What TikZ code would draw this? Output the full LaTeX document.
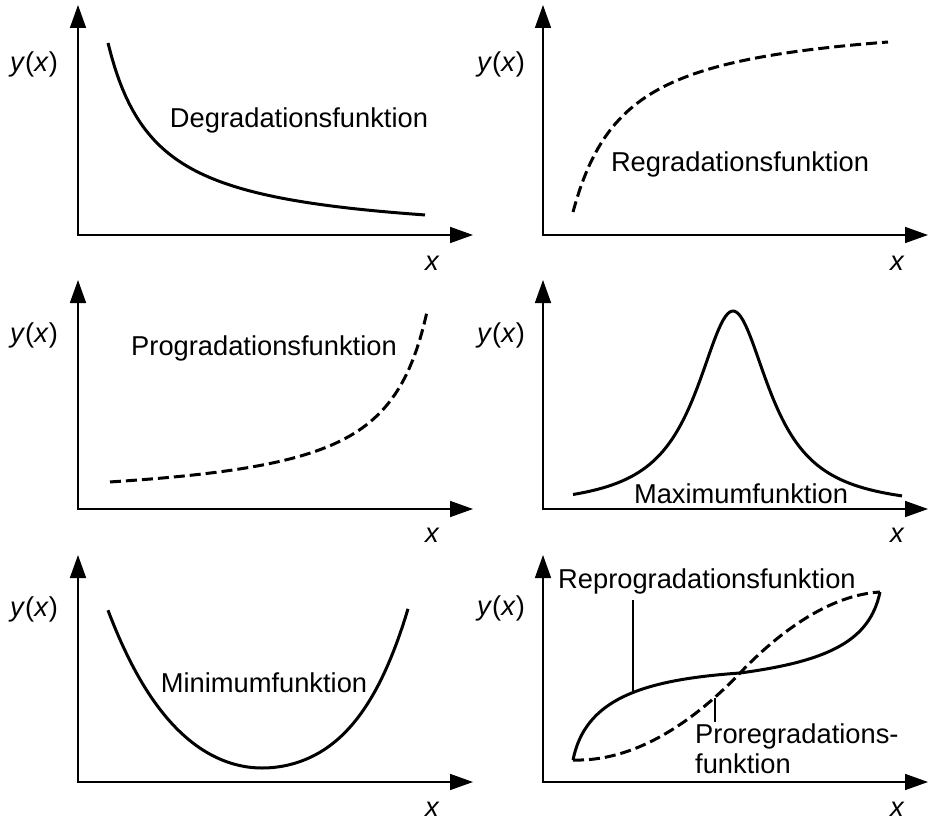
\documentclass[tikz,border=0pt]{standalone}
\usepackage{fontspec}
\setmainfont{Liberation Sans}
\usetikzlibrary{arrows.meta}
\begin{document}
\begin{tikzpicture}[x=1pt,y=-1pt,
  axis/.style={line width=1.6pt,{Triangle[length=23pt,width=16pt]}-{Triangle[length=23pt,width=16pt]}},
  curve/.style={line width=3pt},
  dcurve/.style={curve,dash pattern=on 11pt off 5pt},
  lead/.style={line width=1.5pt},
  lbl/.style={font=\fontsize{27.3}{32}\selectfont,inner sep=0pt},
  varlbl/.style={lbl,anchor=base west}]
\useasboundingbox (0,0) rectangle (929,821);
% axes
\draw[axis] (78,5) -- (78,235) -- (473,235);
\draw[axis] (543,5) -- (543,235) -- (928,235);
\draw[axis] (78,280) -- (78,509) -- (473,509);
\draw[axis] (543,280) -- (543,509) -- (928,509);
\draw[axis] (78,555) -- (78,782) -- (473,782);
\draw[axis] (543,555) -- (543,782) -- (928,782);
% axis labels
\node[varlbl] (y1) at (10,72) {\textit{y}(\textit{x})};
\node[varlbl] (y2) at (477,72) {\textit{y}(\textit{x})};
\node[varlbl] (y3) at (10,342) {\textit{y}(\textit{x})};
\node[varlbl] (y4) at (477,342) {\textit{y}(\textit{x})};
\node[varlbl] (y5) at (10,616) {\textit{y}(\textit{x})};
\node[varlbl] (y6) at (477,615) {\textit{y}(\textit{x})};
\node[varlbl] (x1) at (425,270) {\textit{x}};
\node[varlbl] (x2) at (890,270) {\textit{x}};
\node[varlbl] (x3) at (425,542) {\textit{x}};
\node[varlbl] (x4) at (890,542) {\textit{x}};
\node[varlbl] (x5) at (425,816) {\textit{x}};
\node[varlbl] (x6) at (890,816) {\textit{x}};
% curves
\draw[curve] plot[domain=108:425,samples=90] (\x,{241-9506/(\x-60)});
\draw[dcurve] plot[domain=573:888,samples=90] (\x,{13.4+10526/(\x-520)});
\draw[dcurve] plot[domain=110:427,samples=90] (\x,{505-8302/(470-\x)});
\draw[curve] plot[domain=573:902,samples=150] (\x,{509-198/(1+((\x-733)/45)*((\x-733)/45))});
\draw[curve] plot[domain=108:262,samples=60] (\x,{768-63.1*(cosh((\x-262)/80)-1)})
  -- plot[domain=262:408,samples=60] (\x,{768-25.9*(cosh((\x-262)/55)-1)});
\draw[curve] (573,760) .. controls (585,700) and (640,680) .. (740,673)
  .. controls (830,661) and (870,640) .. (880,592);
\draw[dcurve] (573,760) .. controls (640,762) and (700,715) .. (740,673)
  .. controls (780,631) and (830,595) .. (880,592);
% curve labels
\node[lbl,anchor=base] (t1) at (299,128) {Degradationsfunktion};
\node[lbl,anchor=base] (t2) at (740,172) {Regradationsfunktion};
\node[lbl,anchor=base] (t3) at (264,355) {Progradationsfunktion};
\node[lbl,anchor=base] (t4) at (741,503) {Maximumfunktion};
\node[lbl,anchor=base] (t5) at (264,692) {Minimumfunktion};
\node[lbl,anchor=base west] (t6) at (558,588) {Reprogradationsfunktion};
\node[lbl,anchor=base west] (t7) at (695,743) {Proregradations-};
\node[lbl,anchor=base west] (t8) at (695,773) {funktion};
% leader lines
\coordinate (r1) at (633,600);
\coordinate (r2) at (633,693);
\coordinate (p1) at (715,698);
\coordinate (p2) at (715,722);
\draw[lead] (r1) -- (r2);
\draw[lead] (p1) -- (p2);
\end{tikzpicture}
\end{document}
